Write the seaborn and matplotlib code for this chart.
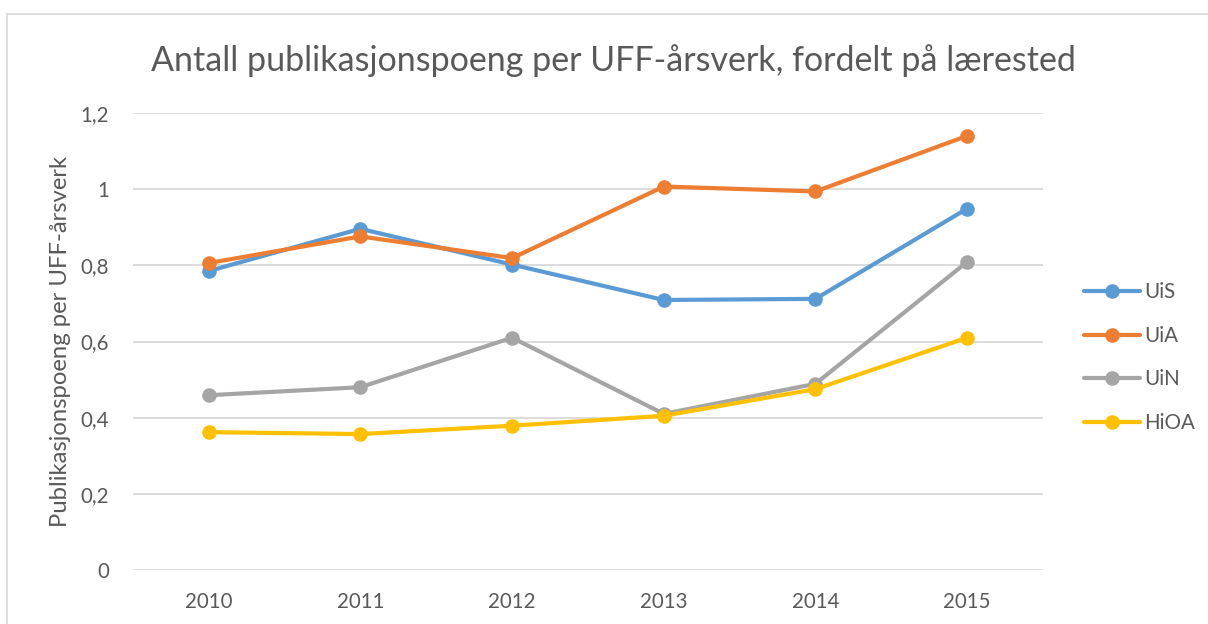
import pandas as pd
import matplotlib.pyplot as plt
import seaborn as sns
from matplotlib.patches import Rectangle

# Data
years = ['2010', '2011', '2012', '2013', '2014', '2015']
uis = [0.785, 0.896, 0.802, 0.709, 0.712, 0.949]
uia = [0.806, 0.876, 0.819, 1.007, 0.994, 1.140]
uin = [0.459, 0.480, 0.610, 0.410, 0.489, 0.809]
hioa = [0.362, 0.357, 0.379, 0.405, 0.475, 0.610]
institutions = ['UiS', 'UiA', 'UiN', 'HiOA']
colors = ['#5B9BD5', '#ED7D31', '#A5A5A5', '#FFC000']

df = pd.DataFrame({'År': years * 4,
                   'Verdi': uis + uia + uin + hioa,
                   'Lærested': sum([[n] * len(years) for n in institutions], [])})

sns.set_style('white')
plt.rcParams['font.family'] = ['Lato', 'DejaVu Sans']
text_color = '#595959'

fig = plt.figure(figsize=(12.08, 6.24), dpi=100)
ax = fig.add_axes([0.110, 0.0865, 0.7534, 0.7324])

sns.lineplot(data=df, x='År', y='Verdi', hue='Lærested', palette=colors,
             marker='o', markersize=10.5, linewidth=3, markeredgewidth=0,
             sort=False, ax=ax)

ax.set_ylim(0, 1.2)
ax.set_xlim(-0.5, len(years) - 0.5)
yticks = [0, 0.2, 0.4, 0.6, 0.8, 1.0, 1.2]
ax.set_yticks(yticks)
ax.set_yticklabels(['0', '0,2', '0,4', '0,6', '0,8', '1', '1,2'])
ax.grid(axis='y', color='#D9D9D9', linewidth=1.3)
ax.set_axisbelow(True)
for s in ax.spines.values():
    s.set_visible(False)
ax.tick_params(axis='both', length=0, labelsize=14.8, labelcolor=text_color)
ax.tick_params(axis='y', pad=17)
ax.tick_params(axis='x', pad=16)
ax.set_xlabel('')
ax.set_ylabel('Publikasjonspoeng per UFF-årsverk', fontsize=17.2,
              color=text_color, labelpad=7)

fig.text(0.508, 0.903, 'Antall publikasjonspoeng per UFF-årsverk, fordelt på lærested',
         ha='center', va='center', fontsize=24.5, color=text_color)

leg = ax.legend(loc='center left', bbox_to_anchor=(0.889, 0.427),
                bbox_transform=fig.transFigure, frameon=False, fontsize=14.8,
                handlelength=2.7, handletextpad=0.2, labelspacing=1.15,
                borderpad=0)
for t in leg.get_texts():
    t.set_color(text_color)

fig.patches.append(Rectangle((7 / 1208, -0.1), 1.2, 1 - 14 / 624 + 0.1,
                             transform=fig.transFigure, fill=False,
                             edgecolor='#D9D9D9', linewidth=1.2))

fig.savefig('out.png', dpi=100)
